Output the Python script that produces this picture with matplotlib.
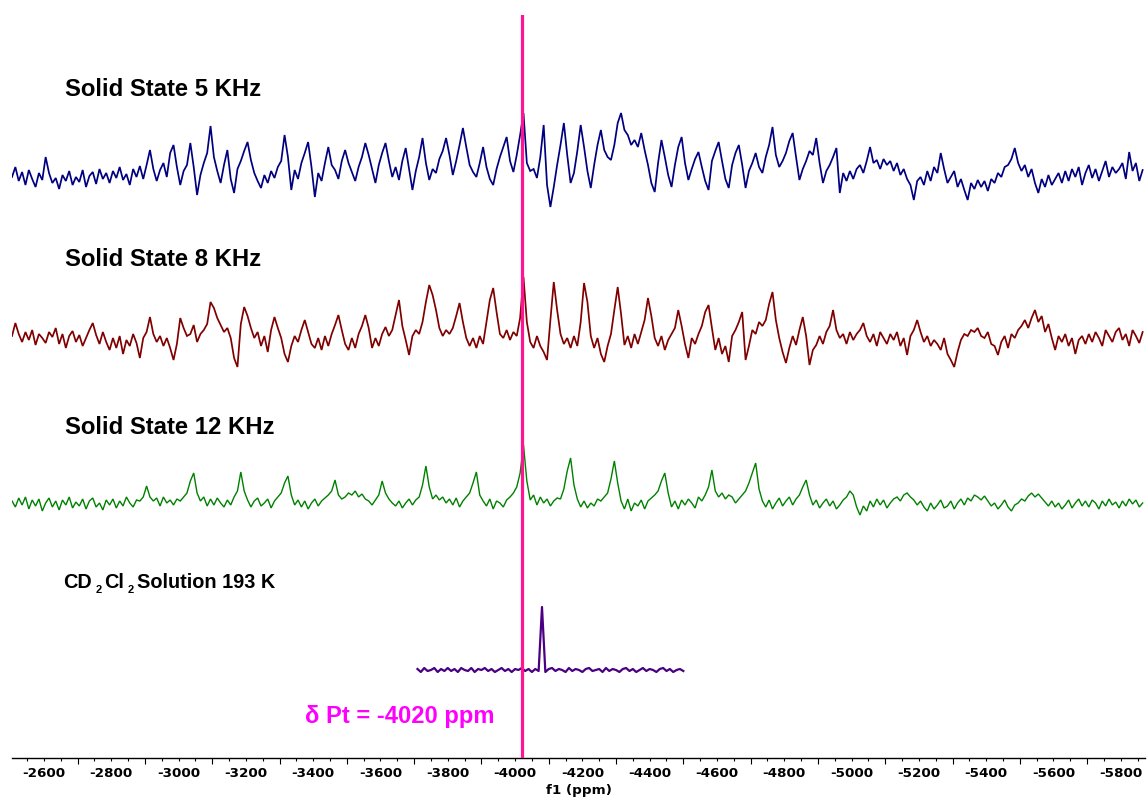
import numpy as np
import matplotlib.pyplot as plt
from matplotlib.ticker import FixedLocator, FuncFormatter, NullFormatter

plt.rcParams['font.weight'] = 'bold'

# solid-state 195Pt traces, one point every 10 ppm starting at -2505 ppm
ss_start = -2505
ss_step = -10

ss_5khz = [
    -2, 8, -6, 3, -10, 5, -4, -12, 2, -5,
    18, 2, -8, -3, -14, 0, -6, 4, -10, -2,
    -7, 5, -12, -1, 3, -9, 6, -4, 2, -8,
    4, -3, 8, -5, 1, -10, 6, -2, 9, -4,
    10, 25, 6, -6, 5, 12, -2, 22, 30, 8,
    -10, 4, 10, 32, 8, -20, 0, 12, 22, 49,
    18, 4, -8, 10, 25, -4, -18, 6, 14, 24,
    33, 15, 2, -6, -13, 0, -8, 4, -3, 8,
    14, 40, 18, -15, 5, -4, 12, 22, 33, 8,
    -22, 2, -6, 12, 28, 10, 5, -4, 14, 25,
    12, 3, -6, 8, 18, 32, 20, 6, -8, 10,
    22, 32, 14, -2, 8, -5, 14, 27, 6, -15,
    4, 18, 37, 12, -5, 6, 2, 16, 24, 37,
    20, 0, 14, 30, 47, 28, 10, 3, -2, 12,
    28, 8, -4, -10, 6, 18, 28, 38, 14, 3,
    20, 40, 62, 12, 4, 6, -3, 18, 50, -10,
    -32, -12, 10, 30, 52, 20, -8, 2, 24, 50,
    28, 4, -13, 10, 30, 45, 25, 18, 15, 30,
    52, 62, 45, 40, 30, 35, 28, 42, 25, 10,
    -8, -17, 12, 35, 18, 0, -12, 10, 28, 38,
    12, -5, 6, 16, 23, 8, -6, -15, 14, 24,
    33, 14, -4, -13, 10, 22, 30, 10, -13, 4,
    12, 22, 8, 2, 18, 30, 48, 20, 8, 14,
    22, 34, 42, 18, -5, 6, 14, 24, 20, 37,
    12, -8, 4, 10, 18, 27, -18, 2, -6, 4,
    -4, 6, 10, 2, 14, 28, 12, 15, 6, 16,
    10, 14, 4, 12, 0, 6, -4, -10, -25, -6,
    -2, -10, 4, -6, 8, 2, 22, 6, -8, -2,
    4, -12, -4, -15, -25, -8, -14, -5, -12, -6,
    -16, -4, -8, 2, -2, 8, 10, 16, 27, 12,
    4, 10, -2, 6, -8, -18, -4, -12, 0, -10,
    -4, 2, -8, 4, -6, 6, -2, 8, -10, 2,
    10, -3, 6, -6, 4, 14, -2, 8, 2, 6,
    12, -4, 23, 4, 12, -6, 5,
]

ss_8khz = [
    4, 17, 6, -2, 8, 0, 10, -5, 6, 2,
    -3, 8, 3, 12, -4, 6, -8, 4, 9, -2,
    5, -6, 2, 10, 17, 5, -4, 8, -2, -10,
    2, -8, 4, -14, 0, -6, 6, -3, -18, 2,
    8, 23, 6, -2, 4, -6, 2, -8, -20, -4,
    22, 12, 4, 6, 15, -2, 6, 10, 16, 38,
    32, 22, 15, 8, 12, 2, -18, -27, 16, 33,
    24, 12, 2, 8, -6, 4, -12, 10, 23, 12,
    2, -14, -22, -6, 4, -2, 10, 20, 8, -4,
    -8, 2, -10, 4, -6, 6, 15, 25, 10, -4,
    -10, 2, -8, 6, 14, 25, 12, -8, 2, -6,
    6, 13, 4, 10, 25, 40, 14, 0, -15, 4,
    10, 6, 18, 38, 55, 45, 30, 12, 4, 10,
    6, 12, 24, 37, 18, 2, -6, 2, -8, 4,
    -4, 18, 40, 52, 28, 6, 2, 10, 0, 8,
    4, 22, 63, 18, -2, -8, 4, -6, -12, -20,
    20, 58, 30, 6, -4, 2, -8, 4, -6, 18,
    57, 38, 4, -8, 2, -14, -22, -6, 6, 30,
    53, 26, -5, 4, -8, 6, -4, 8, 20, 42,
    24, 2, -6, 4, -10, 0, 6, 12, 30, 14,
    -4, -18, 2, -4, 6, 14, 28, 35, 12, -10,
    2, -14, -6, -22, 4, 10, 18, 28, -20, -6,
    10, 6, 18, 14, 20, 36, 48, 20, 2, -12,
    -23, -8, 4, -5, 10, 23, 4, -25, -10, -5,
    4, -4, 8, 14, 30, 10, 2, 6, -4, 8,
    0, 6, 10, 17, 4, -2, 6, -6, 8, 2,
    -4, 6, 0, 8, -6, 2, -15, 4, 10, 20,
    8, -2, 4, -6, 0, -4, -10, 2, -14, -20,
    -27, -12, 0, 6, 4, 10, 8, 12, 4, 2,
    8, -4, -6, -15, -2, 4, -8, 6, 2, 10,
    14, 20, 12, 22, 30, 18, 24, 8, 16, 2,
    -10, 4, -2, 6, -6, 2, -14, 0, 4, -4,
    6, -2, 8, 2, -6, 10, 4, -2, 8, 12,
    0, 6, -6, 10, 4, -3, 8,
]

ss_12khz = [
    2, -4, 5, -2, 6, -6, 3, -3, 4, -8,
    0, 5, -4, 2, -7, 3, -2, 6, -5, 1,
    -3, 4, -6, 2, 5, -4, 0, -7, 3, -2,
    4, -5, 2, -3, 6, 0, -4, 3, 2, 6,
    17, 6, 2, 5, -3, 6, 0, 3, -2, 4,
    2, 6, 10, 22, 30, 10, 2, 6, -3, 4,
    -2, 5, 0, -4, 3, -2, 6, 12, 31, 12,
    3, -4, 2, 5, -3, 0, 4, -5, 2, 6,
    10, 20, 27, 8, -2, 3, -4, 2, -6, 0,
    4, -3, 2, 5, 8, 12, 23, 8, 4, 6,
    10, 8, 12, 6, 9, 4, 2, -2, 3, 8,
    22, 10, 4, 0, -3, 2, -5, 0, 4, -2,
    3, 6, 18, 37, 16, 4, 8, 3, 6, 0,
    4, -2, 5, -4, 2, 6, 10, 20, 31, 8,
    2, -3, 4, -6, 2, 0, -4, 3, 6, 10,
    16, 30, 58, 22, 3, 8, -2, 6, 0, 4,
    -3, 2, 5, 4, 14, 32, 45, 18, 4, -4,
    2, -5, 0, -3, 4, 2, 6, 10, 24, 42,
    20, 2, -6, 4, -8, 0, -3, 3, -6, 2,
    5, 8, 12, 22, 30, 10, -4, 2, -6, 3,
    -2, 4, 0, -5, 6, 2, 8, 16, 33, 12,
    6, 10, 4, 8, 6, 0, 4, 8, 12, 20,
    30, 40, 14, 2, -4, 3, -6, 0, 5, -3,
    2, 6, -2, 4, 8, 16, 23, 8, -2, 3,
    -5, 0, 4, -3, 2, -6, -2, 3, 6, 12,
    8, -4, -12, -3, -8, 2, -4, 4, -2, 3,
    -5, 0, 4, 6, 2, 8, 10, 6, 3, -2,
    2, -4, -8, 0, -6, -2, 3, -5, -3, 2,
    -6, 0, 4, -2, 5, 2, 8, 6, 3, 7,
    2, -3, 0, -6, -2, 3, -4, -8, -2, 0,
    4, 2, 7, 10, 6, 9, 5, 1, -3, 2,
    -4, 0, -6, -2, 3, -5, 0, 4, -3, 2,
    -4, 3, 0, -6, 2, -3, 4, -2, 1, -5,
    2, -3, 4, -1, 3, -4, 0,
]

# CD2Cl2 solution at 193 K, one point every 10 ppm starting at -3710 ppm
sol_start = -3710
sol_step = -10
sol_193k = [
    1, -2, 2, -1, 0, 2, -2, 1, -1, 2,
    -1, 1, -2, 2, 0, -1, 2, -2, 1, 0,
    2, -1, 1, -2, 0, 2, -1, 1, -2, 1,
    0, 2, -1, 1, -2, 1, -1, 63, -2, 1,
    2, -1, 1, 0, -2, 2, -1, 1, 0, -2,
    1, 2, -1, 0, 1, -2, 2, -1, 1, 0,
    -2, 1, 2, -1, 1, -2, 0, 2, -1, 1,
    0, -2, 1, 2, -1, 1, -2, 0, 1, -1,
]

delta_pt = -4020

trace_names = ["Solid State 5 KHz", "Solid State 8 KHz", "Solid State 12 KHz"]
trace_colors = ["#000080", "#800000", "#008000"]
trace_widths = [1.25, 1.25, 1.0]

W, H = 1148, 801
fig = plt.figure(figsize=(W / 100, H / 100), dpi=100)
ax = fig.add_axes([12 / W, 43.3 / H, 1133 / W, 742.7 / H])

# stack the spectra with fixed vertical offsets (axis units = pixels)
offsets = [582.7, 417.7, 254.7]
for vals, off, col, lw in zip([ss_5khz, ss_8khz, ss_12khz], offsets, trace_colors, trace_widths):
    ppm = ss_start + ss_step * np.arange(len(vals))
    ax.plot(ppm, np.array(vals) + off, color=col, lw=lw, solid_joinstyle="miter")

sol_ppm = sol_start + sol_step * np.arange(len(sol_193k))
ax.plot(sol_ppm, np.array(sol_193k) + 87.7, color="#4b0082", lw=1.6)

ax.axvline(delta_pt, color="#ff1493", lw=2.3, zorder=5)

ax.set_xlim(-2505, -5872)
ax.set_ylim(0, 742.7)
ax.set_yticks([])
for s in ["top", "left", "right"]:
    ax.spines[s].set_visible(False)
ax.spines["bottom"].set_linewidth(1.0)

# long ticks at odd hundreds, short ticks every 50 ppm, labels every 200 ppm
ax.xaxis.set_major_locator(FixedLocator(np.arange(-2500, -5900, -200)))
ax.xaxis.set_major_formatter(NullFormatter())
minor = [v for v in range(-2550, -5900, -50) if v % 200 != 100]
ax.xaxis.set_minor_locator(FixedLocator(minor))
ax.xaxis.set_minor_formatter(
    FuncFormatter(lambda v, p: str(int(round(v))) if round(v) % 200 == 0 else ""))
ax.tick_params(axis="x", which="major", length=4.5, width=0.8, direction="out")
ax.tick_params(axis="x", which="minor", length=2.2, width=0.8, direction="out",
               labelsize=9.7, pad=4.5)
ax.set_xlabel("f1 (ppm)", fontsize=9.7, fontweight="bold")
ax.xaxis.set_label_coords(0.5, -0.036)

lab_font = dict(family="Liberation Sans", fontsize=17.2, fontweight="bold", color="black")
for name, py in zip(trace_names, [89, 259, 427]):
    fig.text(65 / W, 1 - py / H, name, ha="left", va="center", **lab_font)

sub_font = dict(family="Liberation Sans", fontsize=14.3, fontweight="bold")
small = dict(family="Liberation Sans", fontsize=8, fontweight="bold")
t = fig.text(63 / W, 1 - 588 / H, "CD", ha="left", va="baseline", **sub_font)
t = ax.annotate("2", xy=(1, 0), xycoords=t, xytext=(2.5, -2), textcoords="offset points",
                ha="left", va="bottom", **small)
t = ax.annotate("Cl", xy=(1, 0), xycoords=t, xytext=(2, 2), textcoords="offset points",
                ha="left", va="bottom", **sub_font)
t = ax.annotate("2", xy=(1, 0), xycoords=t, xytext=(2.5, -2), textcoords="offset points",
                ha="left", va="bottom", **small)
ax.annotate("Solution 193 K", xy=(1, 0), xycoords=t, xytext=(2, 2), textcoords="offset points",
            ha="left", va="bottom", **sub_font)

fig.text(305 / W, 1 - 716 / H, "δ Pt = -4020 ppm", ha="left", va="center",
         family="Liberation Sans", fontsize=17.1, fontweight="bold", color="#ff00ff")

fig.savefig("out.png", dpi=100)
